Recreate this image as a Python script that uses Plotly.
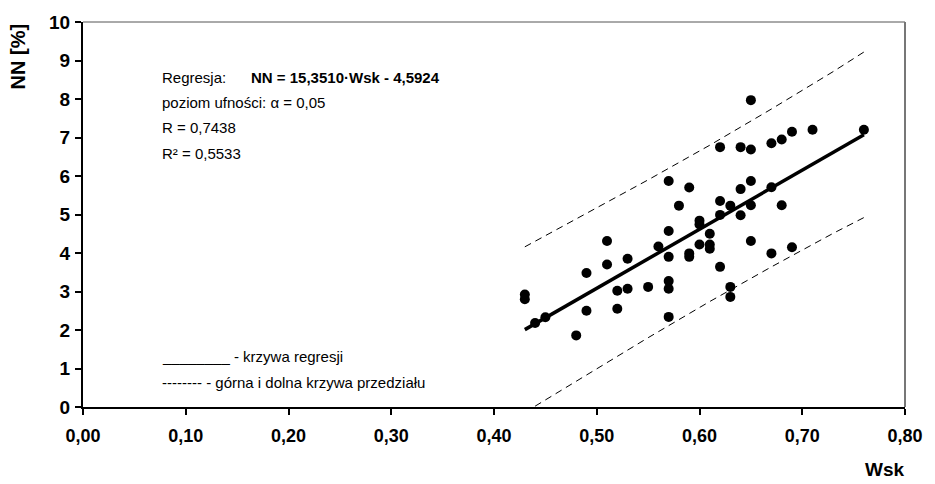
import plotly.graph_objects as go

# ---- data ----
wsk = [0.43, 0.43, 0.44, 0.45, 0.48, 0.49, 0.49, 0.51, 0.51, 0.52, 0.52, 0.53, 0.53,
       0.55, 0.56,
       0.57, 0.57, 0.57, 0.57, 0.57, 0.57,
       0.58,
       0.59, 0.59, 0.59,
       0.60, 0.60, 0.60,
       0.61, 0.61, 0.61,
       0.62, 0.62, 0.62, 0.62,
       0.63, 0.63, 0.63,
       0.64, 0.64, 0.64,
       0.65, 0.65, 0.65, 0.65, 0.65,
       0.67, 0.67, 0.67,
       0.68, 0.68,
       0.69, 0.69,
       0.71, 0.76]
nn = [2.92, 2.80, 2.18, 2.33, 1.86, 3.48, 2.50, 4.31, 3.70, 3.02, 2.55, 3.85, 3.07,
      3.12, 4.17,
      5.87, 4.57, 3.90, 3.27, 3.07, 2.34,
      5.23,
      5.70, 3.99, 3.90,
      4.84, 4.74, 4.22,
      4.50, 4.22, 4.11,
      6.75, 5.35, 4.99, 3.64,
      5.23, 3.12, 2.86,
      6.75, 5.66, 4.98,
      7.97, 6.69, 5.87, 5.24, 4.31,
      6.85, 5.71, 3.99,
      6.95, 5.24,
      7.15, 4.15,
      7.20, 7.20]

reg_x = [0.43, 0.76]
reg_y = [2.01, 7.07]

band_x = [0.43, 0.49, 0.55, 0.61, 0.67, 0.73, 0.76]
band_upper = [4.16, 5.02, 5.90, 6.80, 7.74, 8.71, 9.22]
band_lower = [-0.14, 0.84, 1.80, 2.74, 3.64, 4.51, 4.92]

x_ticks = [0.0, 0.1, 0.2, 0.3, 0.4, 0.5, 0.6, 0.7, 0.8]
x_ticktext = ["0,00", "0,10", "0,20", "0,30", "0,40", "0,50", "0,60", "0,70", "0,80"]
y_ticks = list(range(0, 11))
y_ticktext = [str(v) for v in y_ticks]

# ---- layout helpers (pixel -> paper) ----
W, H = 935, 484
L, R, T, B = 83, 910, 22, 407
def px(x):
    return (x - L) / (R - L)
def py(y):
    return (B - y) / (B - T)

FONT = "Liberation Sans, Arial, sans-serif"

fig = go.Figure()
fig.add_trace(go.Scatter(x=band_x, y=band_upper, mode="lines",
                         line=dict(color="black", width=1, dash="7px,5px"),
                         hoverinfo="skip", showlegend=False))
fig.add_trace(go.Scatter(x=band_x, y=band_lower, mode="lines",
                         line=dict(color="black", width=1, dash="7px,5px"),
                         hoverinfo="skip", showlegend=False))
fig.add_trace(go.Scatter(x=reg_x, y=reg_y, mode="lines",
                         line=dict(color="black", width=3.5),
                         hoverinfo="skip", showlegend=False))
fig.add_trace(go.Scatter(x=wsk, y=nn, mode="markers",
                         marker=dict(color="black", size=10, line=dict(width=0)),
                         showlegend=False))

ann_font = dict(family=FONT, size=15, color="black")
texts = [
    (160, 77, "Regresja:"),
    (160, 103, "poziom ufności: α = 0,05"),
    (160, 128, "R = 0,7438"),
    (160, 153, "R² = 0,5533"),
    (160, 356, "________ - krzywa regresji"),
    (160, 382, "-------- - górna i dolna krzywa przedziału"),
]
annotations = []
for x0, y0, t in texts:
    annotations.append(dict(x=px(x0), y=py(y0), xref="paper", yref="paper",
                            text=t, showarrow=False, xanchor="left", yanchor="middle",
                            font=ann_font))
annotations.append(dict(x=px(250), y=py(77), xref="paper", yref="paper",
                        text="<b>NN = 15,3510·Wsk - 4,5924</b>", showarrow=False,
                        xanchor="left", yanchor="middle", font=ann_font))
annotations.append(dict(x=px(18), y=py(56), xref="paper", yref="paper",
                        text="<b>NN [%]</b>", showarrow=False, textangle=-90,
                        xanchor="center", yanchor="middle",
                        font=dict(family=FONT, size=20, color="black")))
annotations.append(dict(x=px(890), y=py(469), xref="paper", yref="paper",
                        text="<b>Wsk</b>", showarrow=False,
                        xanchor="center", yanchor="middle",
                        font=dict(family=FONT, size=19, color="black")))

fig.update_layout(
    width=W, height=H, autosize=False,
    margin=dict(l=L, r=W - R, t=T, b=H - B, pad=0),
    paper_bgcolor="white", plot_bgcolor="white",
    font=dict(family=FONT, color="black"),
    annotations=annotations,
    hovermode=False,
    shapes=[
        dict(type="line", xref="x domain", yref="y domain", x0=0, x1=1, y0=1, y1=1,
             line=dict(color="#555555", width=1)),
        dict(type="line", xref="x domain", yref="y domain", x0=1, x1=1, y0=0, y1=1,
             line=dict(color="#777777", width=2)),
    ],
)
fig.update_xaxes(range=[0, 0.8], tickvals=x_ticks, ticktext=x_ticktext,
                 showgrid=False, zeroline=False, showline=True, linecolor="black",
                 linewidth=2, ticks="outside", ticklen=6, tickwidth=1.5, tickcolor="black",
                 tickfont=dict(family=FONT, size=18, color="black", weight="bold"),
                 ticklabelstandoff=5)
fig.update_yaxes(range=[0, 10], tickvals=y_ticks, ticktext=y_ticktext,
                 showgrid=False, zeroline=False, showline=True, linecolor="black",
                 linewidth=2, ticks="outside", ticklen=6, tickwidth=1.5, tickcolor="black",
                 tickfont=dict(family=FONT, size=19, color="black", weight="bold"),
                 ticklabelstandoff=1)

fig.write_html("out.html")
